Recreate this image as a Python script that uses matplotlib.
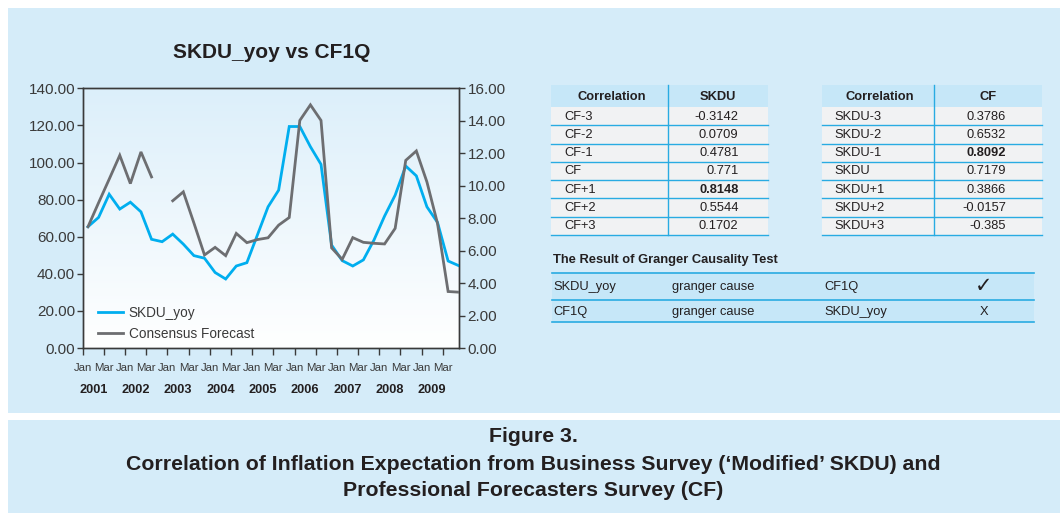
import numpy as np
import matplotlib
matplotlib.use("Agg")
import matplotlib.pyplot as plt
from matplotlib.patches import Rectangle
from matplotlib.lines import Line2D
from matplotlib.colors import LinearSegmentedColormap

# ---------------- data ----------------
years = ["2001", "2002", "2003", "2004", "2005", "2006", "2007", "2008", "2009"]
tick_months = ["Jan", "Mar"]
skdu_yoy = [65.4, 70.4, 82.9, 74.9, 78.6, 73.4, 58.6, 57.3, 61.4, 56.0,
            49.8, 48.4, 40.7, 37.2, 44.2, 46.0, 61.0, 76.1, 85.1, 119.4,
            119.4, 108.5, 99.0, 55.5, 47.1, 44.2, 47.5, 58.2, 71.1, 82.4,
            98.1, 92.8, 76.1, 67.7, 46.9, 44.4]
consensus = [7.47, 8.95, 10.4, 11.87, 10.13, 12.08, 10.54, np.nan, 9.07, 9.62,
             7.7, 5.73, 6.20, 5.69, 7.06, 6.49, 6.68, 6.79, 7.57, 8.04,
             14.02, 14.98, 14.02, 6.17, 5.46, 6.80, 6.51, 6.45, 6.41, 7.37,
             11.56, 12.14, 10.23, 7.67, 3.48, 3.44]
left_ticks = [0, 20, 40, 60, 80, 100, 120, 140]
right_ticks = [0, 2, 4, 6, 8, 10, 12, 14, 16]

corr1_labels = ["CF-3", "CF-2", "CF-1", "CF", "CF+1", "CF+2", "CF+3"]
corr1_values = ["-0.3142", "0.0709", "0.4781", "0.771", "0.8148", "0.5544", "0.1702"]
corr1_bold = 4
corr2_labels = ["SKDU-3", "SKDU-2", "SKDU-1", "SKDU", "SKDU+1", "SKDU+2", "SKDU+3"]
corr2_values = ["0.3786", "0.6532", "0.8092", "0.7179", "0.3866", "-0.0157", "-0.385"]
corr2_bold = 2
granger_rows = [["SKDU_yoy", "granger cause", "CF1Q", "\u2713"],
                ["CF1Q", "granger cause", "SKDU_yoy", "X"]]

# ---------------- style ----------------
W, H = 1060, 516
PANEL = "#D5ECF9"
HEAD = "#C6E7F8"
ROWBG = "#F1F2F3"
SEP = "#29ABE2"
BLUE = "#00AEEF"
GRAY = "#6D6E71"
TXT = "#231F20"
AXC = "#3A3A3A"
ARIAL = ["Liberation Sans", "DejaVu Sans"]

fig = plt.figure(figsize=(W / 100, H / 100), dpi=100)
fig.patch.set_facecolor("white")


def fx(x):
    return x / W


def fy(y):
    return 1 - y / H


def rect(x0, y0, x1, y1, color, z=-5):
    fig.patches.append(Rectangle((fx(x0), fy(y1)), fx(x1) - fx(x0), fy(y0) - fy(y1),
                                 transform=fig.transFigure, facecolor=color,
                                 edgecolor="none", zorder=z))


def hline(x0, x1, y, color=SEP, lw=1.0):
    fig.add_artist(Line2D([fx(x0), fx(x1)], [fy(y), fy(y)], transform=fig.transFigure,
                          color=color, lw=lw, zorder=2))


def vline(x, y0, y1, color=SEP, lw=1.0):
    fig.add_artist(Line2D([fx(x), fx(x)], [fy(y0), fy(y1)], transform=fig.transFigure,
                          color=color, lw=lw, zorder=2))


def txt(x, y, s, size=9.3, weight="normal", ha="left", family=ARIAL, **kw):
    fig.text(fx(x), fy(y), s, fontsize=size, fontweight=weight, ha=ha, va="center",
             color=TXT, family=family, **kw)


# panels
rect(8, 8, W, 413, PANEL, -10)
rect(8, 420, W, 513, PANEL, -10)

# ---------------- chart ----------------
L, R, T, B = 82.7, 458.7, 88.3, 348.0
ax = fig.add_axes([fx(L), fy(B), fx(R) - fx(L), fy(T) - fy(B)])
ax.set_zorder(1)
ax.set_facecolor("white")
grad = np.linspace(0, 1, 256).reshape(-1, 1)
cmap = LinearSegmentedColormap.from_list("g", ["#DCEFFA", "#FFFFFF"])
ax.imshow(grad, aspect="auto", cmap=cmap, extent=[0, 1, 0, 1], origin="upper",
          transform=ax.transAxes, zorder=0)

x = np.arange(len(skdu_yoy))
ax.plot(x, skdu_yoy, color=BLUE, lw=2.0, zorder=3, label="SKDU_yoy",
        solid_joinstyle="miter")
ax.set_xlim(-0.5, 35.0)
ax.set_ylim(0, 140)
ax.set_yticks(left_ticks)
ax.set_yticklabels([f"{v:.2f}" for v in left_ticks])

ax2 = ax.twinx()
ax2.set_zorder(2)
ax2.plot(x, consensus, color=GRAY, lw=2.0, zorder=4, label="Consensus Forecast",
         solid_joinstyle="miter")
ax2.set_ylim(0, 16)
ax2.set_yticks(right_ticks)
ax2.set_yticklabels([f"{v:.2f}" for v in right_ticks])
ax2.set_xlim(-0.5, 35.0)

tick_pos = [-0.5 + 2 * k for k in range(2 * len(years))]
ax.set_xticks(tick_pos)
ax.set_xticklabels([tick_months[k % 2] for k in range(len(tick_pos))])

for a in (ax, ax2):
    for sp in a.spines.values():
        sp.set_color(AXC)
        sp.set_linewidth(1.0)
ax.tick_params(axis="y", direction="out", length=4.5, width=1, pad=1,
               labelsize=11, labelcolor=AXC, color=AXC)
ax2.tick_params(axis="y", direction="out", length=4.5, width=1, pad=2,
                labelsize=11, labelcolor=AXC, color=AXC)
ax.tick_params(axis="x", direction="out", length=5, width=1, pad=5.5,
               labelsize=8.2, labelcolor=AXC, color=AXC)
for lab in ax.get_yticklabels() + ax2.get_yticklabels() + ax.get_xticklabels():
    lab.set_family(ARIAL)

for i, yr in enumerate(years):
    ax.text(0.5 + 4 * i, -0.16, yr, transform=ax.get_xaxis_transform(),
            ha="center", va="center", fontsize=9.2, fontweight="bold",
            color=TXT, family=ARIAL)

h1, l1 = ax.get_legend_handles_labels()
h2, l2 = ax2.get_legend_handles_labels()
leg = ax2.legend(h1 + h2, l1 + l2, loc="lower left", bbox_to_anchor=(0.041, 0.028),
                 frameon=False, prop={"family": ARIAL, "size": 9.8},
                 borderpad=0, borderaxespad=0,
                 handlelength=1.85, handletextpad=0.4, labelspacing=0.5)
for t in leg.get_texts():
    t.set_color(AXC)

fig.text(fx(272), fy(53), "SKDU_yoy vs CF1Q", fontsize=15, fontweight="bold",
         ha="center", va="center", color=TXT, family=ARIAL)

# ---------------- correlation tables ----------------
def corr_table(x0, xm, x1, head1, head2, labels, values, bold_row, lab_x, val_x):
    top, hb = 85, 107
    rh = (235 - 107) / len(labels)
    rect(x0, top, x1, hb, HEAD, -4)
    rect(x0, hb, x1, 235, ROWBG, -4)
    txt((x0 + xm) / 2 + 2, (top + hb) / 2 + 1, head1, weight="bold", ha="center")
    txt((xm + x1) / 2, (top + hb) / 2 + 1, head2, weight="bold", ha="center")
    for i, (lb, v) in enumerate(zip(labels, values)):
        yc = hb + rh * (i + 0.5) + 0.5
        txt(lab_x, yc, lb)
        txt(val_x, yc, v, ha="right", weight="bold" if i == bold_row else "normal")
        hline(x0, x1, hb + rh * (i + 1))
    vline(xm, top, 235)


corr_table(551, 667.7, 767.7, "Correlation", "SKDU", corr1_labels, corr1_values,
           corr1_bold, 564, 738.5)
corr_table(821.7, 934.3, 1041.7, "Correlation", "CF", corr2_labels, corr2_values,
           corr2_bold, 834.3, 1006)

# ---------------- granger table ----------------
txt(553.3, 260.5, "The Result of Granger Causality Test", weight="bold")
row_edges = [273, 300.3, 322]
rect(551.7, row_edges[0], 1034.3, row_edges[-1], HEAD, -4)
for y in row_edges:
    hline(551.7, 1034.3, y, lw=1.2)
col_x = [553.7, 671.7, 824, 984]
for r, row in enumerate(granger_rows):
    yc = (row_edges[r] + row_edges[r + 1]) / 2 + 0.5
    for c, s in enumerate(row):
        if c == 3:
            if s == "\u2713":
                txt(col_x[c], yc - 1, s, size=15, ha="center", family=["DejaVu Sans"])
            else:
                txt(col_x[c], yc, s, ha="center")
        else:
            txt(col_x[c], yc, s)

# ---------------- caption ----------------
cap = ["Figure 3.",
       "Correlation of Inflation Expectation from Business Survey (\u2018Modified\u2019 SKDU) and",
       "Professional Forecasters Survey (CF)"]
for s, y in zip(cap, [437, 465, 491]):
    txt(533, y, s, size=15.3, weight="bold", ha="center")

fig.savefig("out.png", dpi=100, facecolor="white")
